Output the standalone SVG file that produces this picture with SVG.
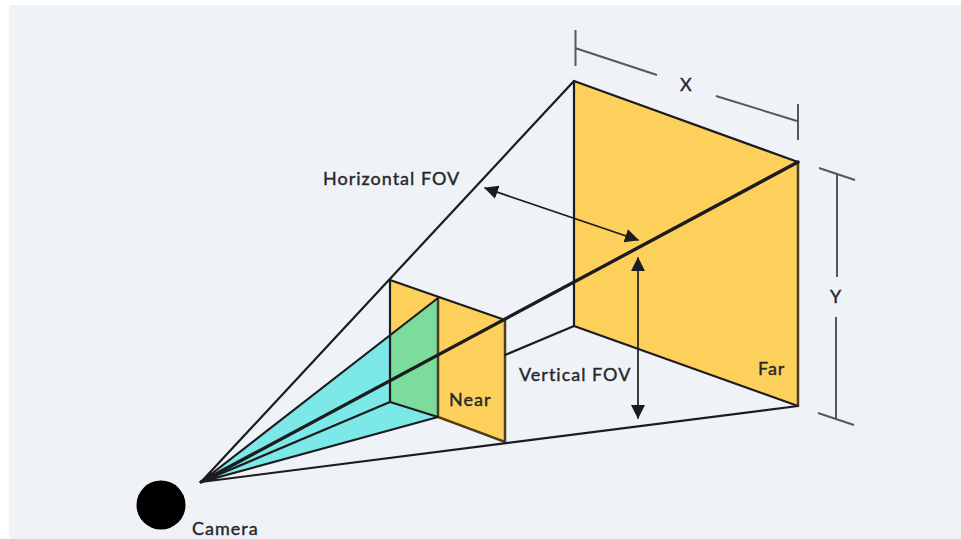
<svg xmlns="http://www.w3.org/2000/svg" width="961" height="539" viewBox="0 0 961 539">
<style>
.ln{stroke:#1c1c20;fill:none;stroke-linecap:round}
.t{stroke-width:2.200}
.k{stroke-width:3.400}
.a{stroke-width:1.700}
.d{stroke:#55585d;stroke-width:2;fill:none}
.y{fill:#fdd05c}
.e{stroke:#4d3d20;stroke-width:2.500;fill:none}
text{font-family:Lato,"Open Sans",sans-serif;font-weight:400;font-size:18px;letter-spacing:1px;fill:#26282c;stroke:#26282c;stroke-width:.4}
</style>
<defs>
<marker id="ah" viewBox="0 0 14 14" refX="13" refY="7" markerWidth="14" markerHeight="14" markerUnits="userSpaceOnUse" orient="auto-start-reverse"><path d="M0 0L14 7L0 14Z" fill="#1c1c20"/></marker>
</defs>
<rect width="961" height="539" fill="#ffffff"/>
<rect x="9" y="5" width="952" height="534" fill="#eff3f7"/>
<g id="far-plane">
<polygon class="y" points="574,81 798,162 798,406 574,326"/>
<path class="ln t" d="M574 81V326M574 326L798 406"/>
<path class="e" d="M798 162V406"/>
<path class="ln t" d="M574 81L798 162"/>
<text x="758" y="375">Far</text>
</g>
<g id="near-plane">
<polygon class="y" points="390,280 505,320 505,442 390,402"/>
<polygon fill="#7de8e8" points="201,482 390,335 390,402 438,417"/>
<polygon fill="#7bdc9c" points="390,335 438,298 438,417 390,402"/>
<path class="ln t" d="M390 280V402L438 417"/>
<path class="e" d="M438 298V417L505 442V320"/>
<path class="ln t" d="M390 280L505 320"/>
<text x="449" y="406">Near</text>
</g>
<g id="camera">
<circle cx="161" cy="505" r="24.500" fill="#000"/>
<text x="192" y="535">Camera</text>
</g>
<g id="connectors">
<path class="ln t" d="M201 482L574 81M201 482L438 298M201 482L390 402M201 482L438 417M201 482L798 406M505 355L574 326"/>
<path class="ln k" d="M201 482L798 162"/>
<path class="ln a" marker-start="url(#ah)" marker-end="url(#ah)" d="M485 188L638 240"/>
<path class="ln a" marker-start="url(#ah)" marker-end="url(#ah)" d="M638 258V418"/>
<path class="d" d="M575.500 30V66M575 48L657 75M716 96L797 121M798 104V140M819 168L855 180M837 174V277M836 317V419M818 413L854 425"/>
</g>
<g id="labels">
<text x="323" y="185">Horizontal FOV</text>
<text x="519" y="381">Vertical FOV</text>
<text x="680" y="91">X</text>
<text x="830" y="303">Y</text>
</g>
</svg>
